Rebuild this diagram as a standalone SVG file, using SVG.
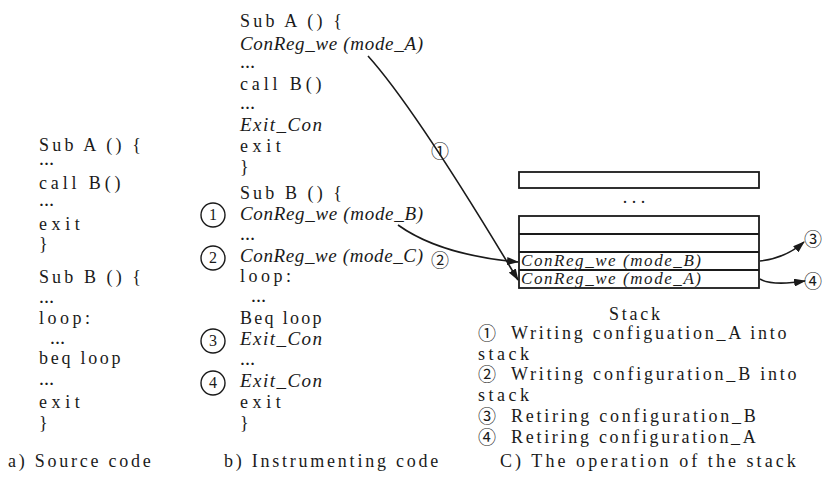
<svg xmlns="http://www.w3.org/2000/svg" width="823" height="479" viewBox="0 0 823 479">
<defs>
<style>
.t{font-family:"Liberation Serif","DejaVu Serif",serif;font-size:18px;fill:#1a1a1a}
.i{font-family:"Liberation Serif","DejaVu Serif",serif;font-style:italic;font-size:19px;fill:#1a1a1a}
.s{font-family:"Liberation Serif","DejaVu Serif",serif;font-style:italic;font-size:17px;fill:#1a1a1a}
.d{font-family:"Liberation Serif",serif;font-size:15px;font-weight:bold;fill:#1a1a1a}
.c{font-family:"Noto Sans CJK SC","DejaVu Sans",sans-serif;font-size:18px;fill:#1a1a1a}
.n{font-family:"Liberation Serif",serif;font-size:16px;fill:#1a1a1a;text-anchor:middle}
.box{fill:#fff;stroke:#1a1a1a;stroke-width:1.8}
.ln{stroke:#1a1a1a;stroke-width:1.8}
.cir{fill:none;stroke:#1a1a1a;stroke-width:1.4}
.arr{fill:none;stroke:#1a1a1a;stroke-width:1.6;marker-end:url(#ah)}
</style>
<marker id="ah" viewBox="0 0 12 8" refX="11" refY="4" markerWidth="12" markerHeight="8" markerUnits="userSpaceOnUse" orient="auto">
<path d="M0,0 L12,4 L0,8 Z" fill="#1a1a1a"/>
</marker>
</defs>
<rect width="823" height="479" fill="#fff"/>

<g id="source-code">
<text class="t" x="39" y="151" textLength="102" lengthAdjust="spacing">Sub A () {</text>
<text class="d" x="39" y="165" textLength="17" lengthAdjust="spacing">…</text>
<text class="t" x="39" y="189" textLength="81.6" lengthAdjust="spacing">call B()</text>
<text class="d" x="39" y="206" textLength="17" lengthAdjust="spacing">…</text>
<text class="t" x="39" y="230" textLength="40.8" lengthAdjust="spacing">exit</text>
<text class="t" x="39" y="250">}</text>
<text class="t" x="39" y="283" textLength="102" lengthAdjust="spacing">Sub B () {</text>
<text class="d" x="39" y="303" textLength="17" lengthAdjust="spacing">…</text>
<text class="t" x="39" y="324" textLength="51" lengthAdjust="spacing">loop:</text>
<text class="d" x="50" y="344" textLength="17" lengthAdjust="spacing">…</text>
<text class="t" x="39" y="364" textLength="81.6" lengthAdjust="spacing">beq loop</text>
<text class="d" x="39" y="385" textLength="17" lengthAdjust="spacing">…</text>
<text class="t" x="39" y="408" textLength="40.8" lengthAdjust="spacing">exit</text>
<text class="t" x="39" y="429">}</text>
<text class="t" x="8" y="467" textLength="142.8" lengthAdjust="spacing">a) Source code</text>
</g>

<g id="instrumented-code">
<text class="t" x="240" y="27" textLength="102" lengthAdjust="spacing">Sub A () {</text>
<text class="i" x="240" y="50" textLength="183" lengthAdjust="spacing">ConReg_we (mode_A)</text>
<text class="d" x="240" y="68" textLength="17" lengthAdjust="spacing">…</text>
<text class="t" x="240" y="90" textLength="81.6" lengthAdjust="spacing">call B()</text>
<text class="d" x="240" y="109" textLength="17" lengthAdjust="spacing">…</text>
<text class="i" x="240" y="131" textLength="82" lengthAdjust="spacing">Exit_Con</text>
<text class="t" x="240" y="152" textLength="40.8" lengthAdjust="spacing">exit</text>
<text class="t" x="240" y="173">}</text>
<text class="t" x="240" y="199" textLength="102" lengthAdjust="spacing">Sub B () {</text>
<text class="i" x="240" y="220" textLength="183" lengthAdjust="spacing">ConReg_we (mode_B)</text>
<text class="d" x="240" y="240" textLength="17" lengthAdjust="spacing">…</text>
<text class="i" x="240" y="262" textLength="183" lengthAdjust="spacing">ConReg_we (mode_C)</text>
<text class="t" x="240" y="282" textLength="51" lengthAdjust="spacing">loop:</text>
<text class="d" x="251" y="302" textLength="17" lengthAdjust="spacing">…</text>
<text class="t" x="240" y="324" textLength="81.6" lengthAdjust="spacing">Beq loop</text>
<text class="i" x="240" y="345" textLength="82" lengthAdjust="spacing">Exit_Con</text>
<text class="d" x="240" y="365" textLength="17" lengthAdjust="spacing">…</text>
<text class="i" x="240" y="387" textLength="82" lengthAdjust="spacing">Exit_Con</text>
<text class="t" x="240" y="408" textLength="40.8" lengthAdjust="spacing">exit</text>
<text class="t" x="240" y="429">}</text>
<text class="t" x="224" y="467" textLength="214.2" lengthAdjust="spacing">b) Instrumenting code</text>
</g>

<g id="markers-b">
<circle class="cir" cx="213" cy="215" r="12"/><text class="n" x="213" y="220">1</text>
<circle class="cir" cx="213" cy="258" r="12"/><text class="n" x="213" y="263">2</text>
<circle class="cir" cx="213" cy="341" r="12"/><text class="n" x="213" y="346">3</text>
<circle class="cir" cx="213" cy="383" r="12"/><text class="n" x="213" y="388">4</text>
</g>

<g id="stack">
<rect class="box" x="519" y="172" width="240" height="16"/>
<text class="t" x="634" y="203" text-anchor="middle">. . .</text>
<rect class="box" x="519" y="216" width="240" height="72"/>
<line class="ln" x1="519" y1="234" x2="759" y2="234"/>
<line class="ln" x1="519" y1="252" x2="759" y2="252"/>
<line class="ln" x1="519" y1="270" x2="759" y2="270"/>
<text class="s" x="521" y="266" textLength="180" lengthAdjust="spacing">ConReg_we (mode_B)</text>
<text class="s" x="521" y="284" textLength="180" lengthAdjust="spacing">ConReg_we (mode_A)</text>
<text class="t" x="609" y="320" textLength="51" lengthAdjust="spacing">Stack</text>
</g>

<g id="legend">
<text class="c" x="478" y="340">①</text><text class="t" x="511" y="339" textLength="275.4" lengthAdjust="spacing">Writing configuation_A into</text>
<text class="t" x="478" y="360" textLength="51" lengthAdjust="spacing">stack</text>
<text class="c" x="478" y="381">②</text><text class="t" x="511" y="380" textLength="285.6" lengthAdjust="spacing">Writing configuration_B into</text>
<text class="t" x="478" y="401" textLength="51" lengthAdjust="spacing">stack</text>
<text class="c" x="478" y="423">③</text><text class="t" x="511" y="422" textLength="244.8" lengthAdjust="spacing">Retiring configuration_B</text>
<text class="c" x="478" y="444">④</text><text class="t" x="511" y="443" textLength="244.8" lengthAdjust="spacing">Retiring configuration_A</text>
<text class="t" x="500" y="467" textLength="295.8" lengthAdjust="spacing">C) The operation of the stack</text>
</g>

<g id="connectors">
<path class="arr" d="M368,56 Q415,108 518,280"/>
<path class="arr" d="M398,225 Q440,255 518,262"/>
<path class="arr" d="M760,261 Q786,258 804,242"/>
<path class="arr" d="M760,279 Q772,286 805,281"/>
<text class="c" x="431" y="158">①</text>
<text class="c" x="431" y="267">②</text>
<text class="c" x="804" y="246">③</text>
<text class="c" x="804" y="288">④</text>
</g>
</svg>
